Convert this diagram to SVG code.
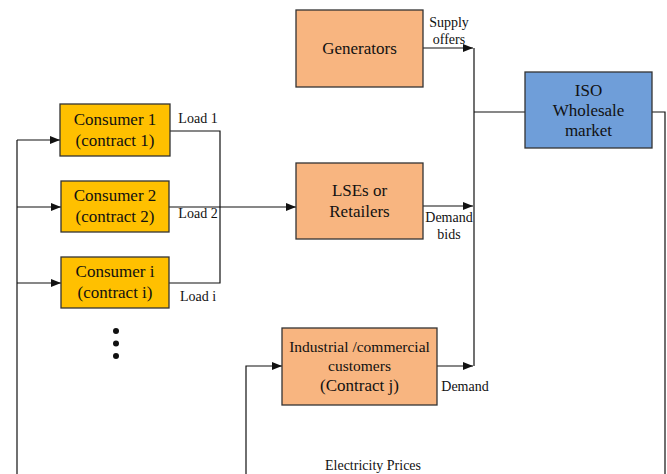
<svg xmlns="http://www.w3.org/2000/svg" width="667" height="474" viewBox="0 0 667 474">
<style>
.box{stroke:#333;stroke-width:1.3}
.cons{fill:#FFC000}
.peach{fill:#F8B580}
.iso{fill:#6F9ED9}
.ln{fill:none;stroke:#111;stroke-width:1.2}
</style>
<defs>
<marker id="ah" markerWidth="10" markerHeight="8" refX="10" refY="4" orient="auto" markerUnits="userSpaceOnUse">
<path d="M0,0 L10,4 L0,8 Z" fill="#111"/>
</marker>
</defs>
<rect width="667" height="474" fill="#fff"/>
<g id="connectors">
<path class="ln" d="M423,48 H473" marker-end="url(#ah)"/>
<path class="ln" d="M474,48 V366"/>
<path class="ln" d="M474,112 H525"/>
<path class="ln" d="M652,112 H665 V474"/>
<path class="ln" d="M423,206 H473" marker-end="url(#ah)"/>
<path class="ln" d="M437,366 H473" marker-end="url(#ah)"/>
<path class="ln" d="M17,474 V140"/>
<path class="ln" d="M17,140 H60" marker-end="url(#ah)"/>
<path class="ln" d="M17,207 H61" marker-end="url(#ah)"/>
<path class="ln" d="M17,283 H61" marker-end="url(#ah)"/>
<path class="ln" d="M170,131 H220 V283 H169"/>
<path class="ln" d="M169,207 H296" marker-end="url(#ah)"/>
<path class="ln" d="M246,474 V366 H282" marker-end="url(#ah)"/>
</g>
<g font-family="'Liberation Serif', 'Times New Roman', serif" fill="#111" text-anchor="middle" font-size="17">
<g id="generators">
<rect class="box peach" x="296" y="10" width="127" height="77"/>
<text x="359.5" y="54">Generators</text>
</g>
<g id="iso">
<rect class="box iso" x="525" y="72" width="127" height="76"/>
<text x="588.5" y="96">ISO</text>
<text x="588.5" y="116">Wholesale</text>
<text x="588.5" y="136">market</text>
</g>
<g id="consumer1">
<rect class="box cons" x="60" y="104" width="110" height="52"/>
<text x="115" y="125">Consumer 1</text>
<text x="115" y="146">(contract 1)</text>
</g>
<g id="consumer2">
<rect class="box cons" x="61" y="181" width="108" height="51"/>
<text x="115" y="201">Consumer 2</text>
<text x="115" y="222">(contract 2)</text>
</g>
<g id="consumeri">
<rect class="box cons" x="61" y="257" width="108" height="51"/>
<text x="115" y="277">Consumer i</text>
<text x="115" y="298">(contract i)</text>
</g>
<g id="lses">
<rect class="box peach" x="296" y="163" width="127" height="76"/>
<text x="359.5" y="196">LSEs or</text>
<text x="359.5" y="217">Retailers</text>
</g>
<g id="industrial">
<rect class="box peach" x="282" y="328" width="155" height="77"/>
<text x="359.5" y="352" font-size="15.5">Industrial /commercial</text>
<text x="359.5" y="371" font-size="15.5">customers</text>
<text x="359.5" y="391">(Contract j)</text>
</g>
<g id="labels" font-size="14">
<text x="198" y="123">Load 1</text>
<text x="198" y="218">Load 2</text>
<text x="198" y="301">Load i</text>
<text x="449" y="27">Supply</text>
<text x="449" y="44">offers</text>
<text x="449" y="222">Demand</text>
<text x="449" y="239">bids</text>
<text x="465" y="391">Demand</text>
<text x="373" y="470">Electricity Prices</text>
</g>
</g>
<g id="dots" fill="#111">
<circle cx="116" cy="331" r="3"/>
<circle cx="116" cy="343.5" r="3"/>
<circle cx="116" cy="356" r="3"/>
</g>
</svg>
